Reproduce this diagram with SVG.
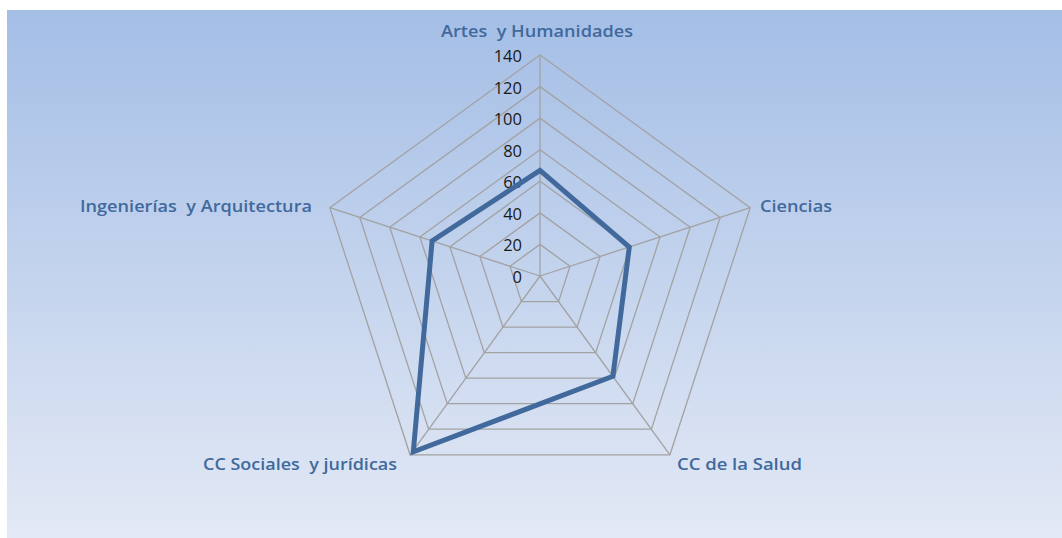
<svg xmlns="http://www.w3.org/2000/svg" width="1062" height="538" viewBox="0 0 1062 538">
<defs>
<linearGradient id="bg" x1="0" y1="0" x2="0" y2="1">
<stop offset="0" stop-color="#a4bee6"/>
<stop offset="1" stop-color="#e3e9f5"/>
</linearGradient>
<style>
.grid{fill:none;stroke:#a2a2a2;stroke-width:1.3}
.cat{font-family:"Open Sans","Liberation Sans",Arial,sans-serif;font-weight:600;font-size:16.5px;fill:#41699c;white-space:pre}
.tick{font-family:"Open Sans","Liberation Sans",Arial,sans-serif;font-size:16.5px;fill:#1a1a1a;text-anchor:end}
.data{fill:none;stroke:#41699c;stroke-width:5;stroke-linejoin:miter}
</style>
</defs>
<rect x="0" y="0" width="1062" height="538" fill="#ffffff"/>
<rect x="7" y="10" width="1055" height="528" fill="url(#bg)"/>
<g id="grid">
<polygon class="grid" points="540,244.4 570.0,266.2 558.6,301.6 521.4,301.6 510.0,266.2"/>
<polygon class="grid" points="540,212.9 600.1,256.5 577.1,327.1 502.9,327.1 479.9,256.5"/>
<polygon class="grid" points="540,181.3 630.1,246.7 595.7,352.6 484.3,352.6 449.9,246.7"/>
<polygon class="grid" points="540,149.7 660.1,237.0 614.2,378.2 465.8,378.2 419.9,237.0"/>
<polygon class="grid" points="540,118.1 690.2,227.2 632.8,403.7 447.2,403.7 389.8,227.2"/>
<polygon class="grid" points="540,86.6 720.2,217.5 651.4,429.2 428.6,429.2 359.8,217.5"/>
<polygon class="grid" points="540,55 750.2,207.7 669.9,454.8 410.1,454.8 329.8,207.7"/>
<line class="grid" x1="540" y1="276" x2="540" y2="55"/>
<line class="grid" x1="540" y1="276" x2="750.2" y2="207.7"/>
<line class="grid" x1="540" y1="276" x2="669.9" y2="454.8"/>
<line class="grid" x1="540" y1="276" x2="410.1" y2="454.8"/>
<line class="grid" x1="540" y1="276" x2="329.8" y2="207.7"/>
</g>
<g id="ticks">
<text class="tick" x="522" y="62">140</text>
<text class="tick" x="522" y="93.6">120</text>
<text class="tick" x="522" y="125.1">100</text>
<text class="tick" x="522" y="156.7">80</text>
<text class="tick" x="522" y="188.3">60</text>
<text class="tick" x="522" y="219.9">40</text>
<text class="tick" x="522" y="251.4">20</text>
<text class="tick" x="522" y="283">0</text>
</g>
<g id="connectors">
<polygon class="data" points="540,170.3 629.3,247.0 612.9,376.3 413.3,451.8 432.1,241.0"/>
</g>
<g id="artes"><text class="cat" x="441" y="37" textLength="192" lengthAdjust="spacingAndGlyphs">Artes  y Humanidades</text></g>
<g id="ciencias"><text class="cat" x="760" y="212" textLength="72" lengthAdjust="spacingAndGlyphs">Ciencias</text></g>
<g id="salud"><text class="cat" x="677" y="470" textLength="125" lengthAdjust="spacingAndGlyphs">CC de la Salud</text></g>
<g id="sociales"><text class="cat" x="203" y="470" textLength="194" lengthAdjust="spacingAndGlyphs">CC Sociales  y jurídicas</text></g>
<g id="ingenierias"><text class="cat" x="80" y="212" textLength="232" lengthAdjust="spacingAndGlyphs">Ingenierías  y Arquitectura</text></g>
</svg>
